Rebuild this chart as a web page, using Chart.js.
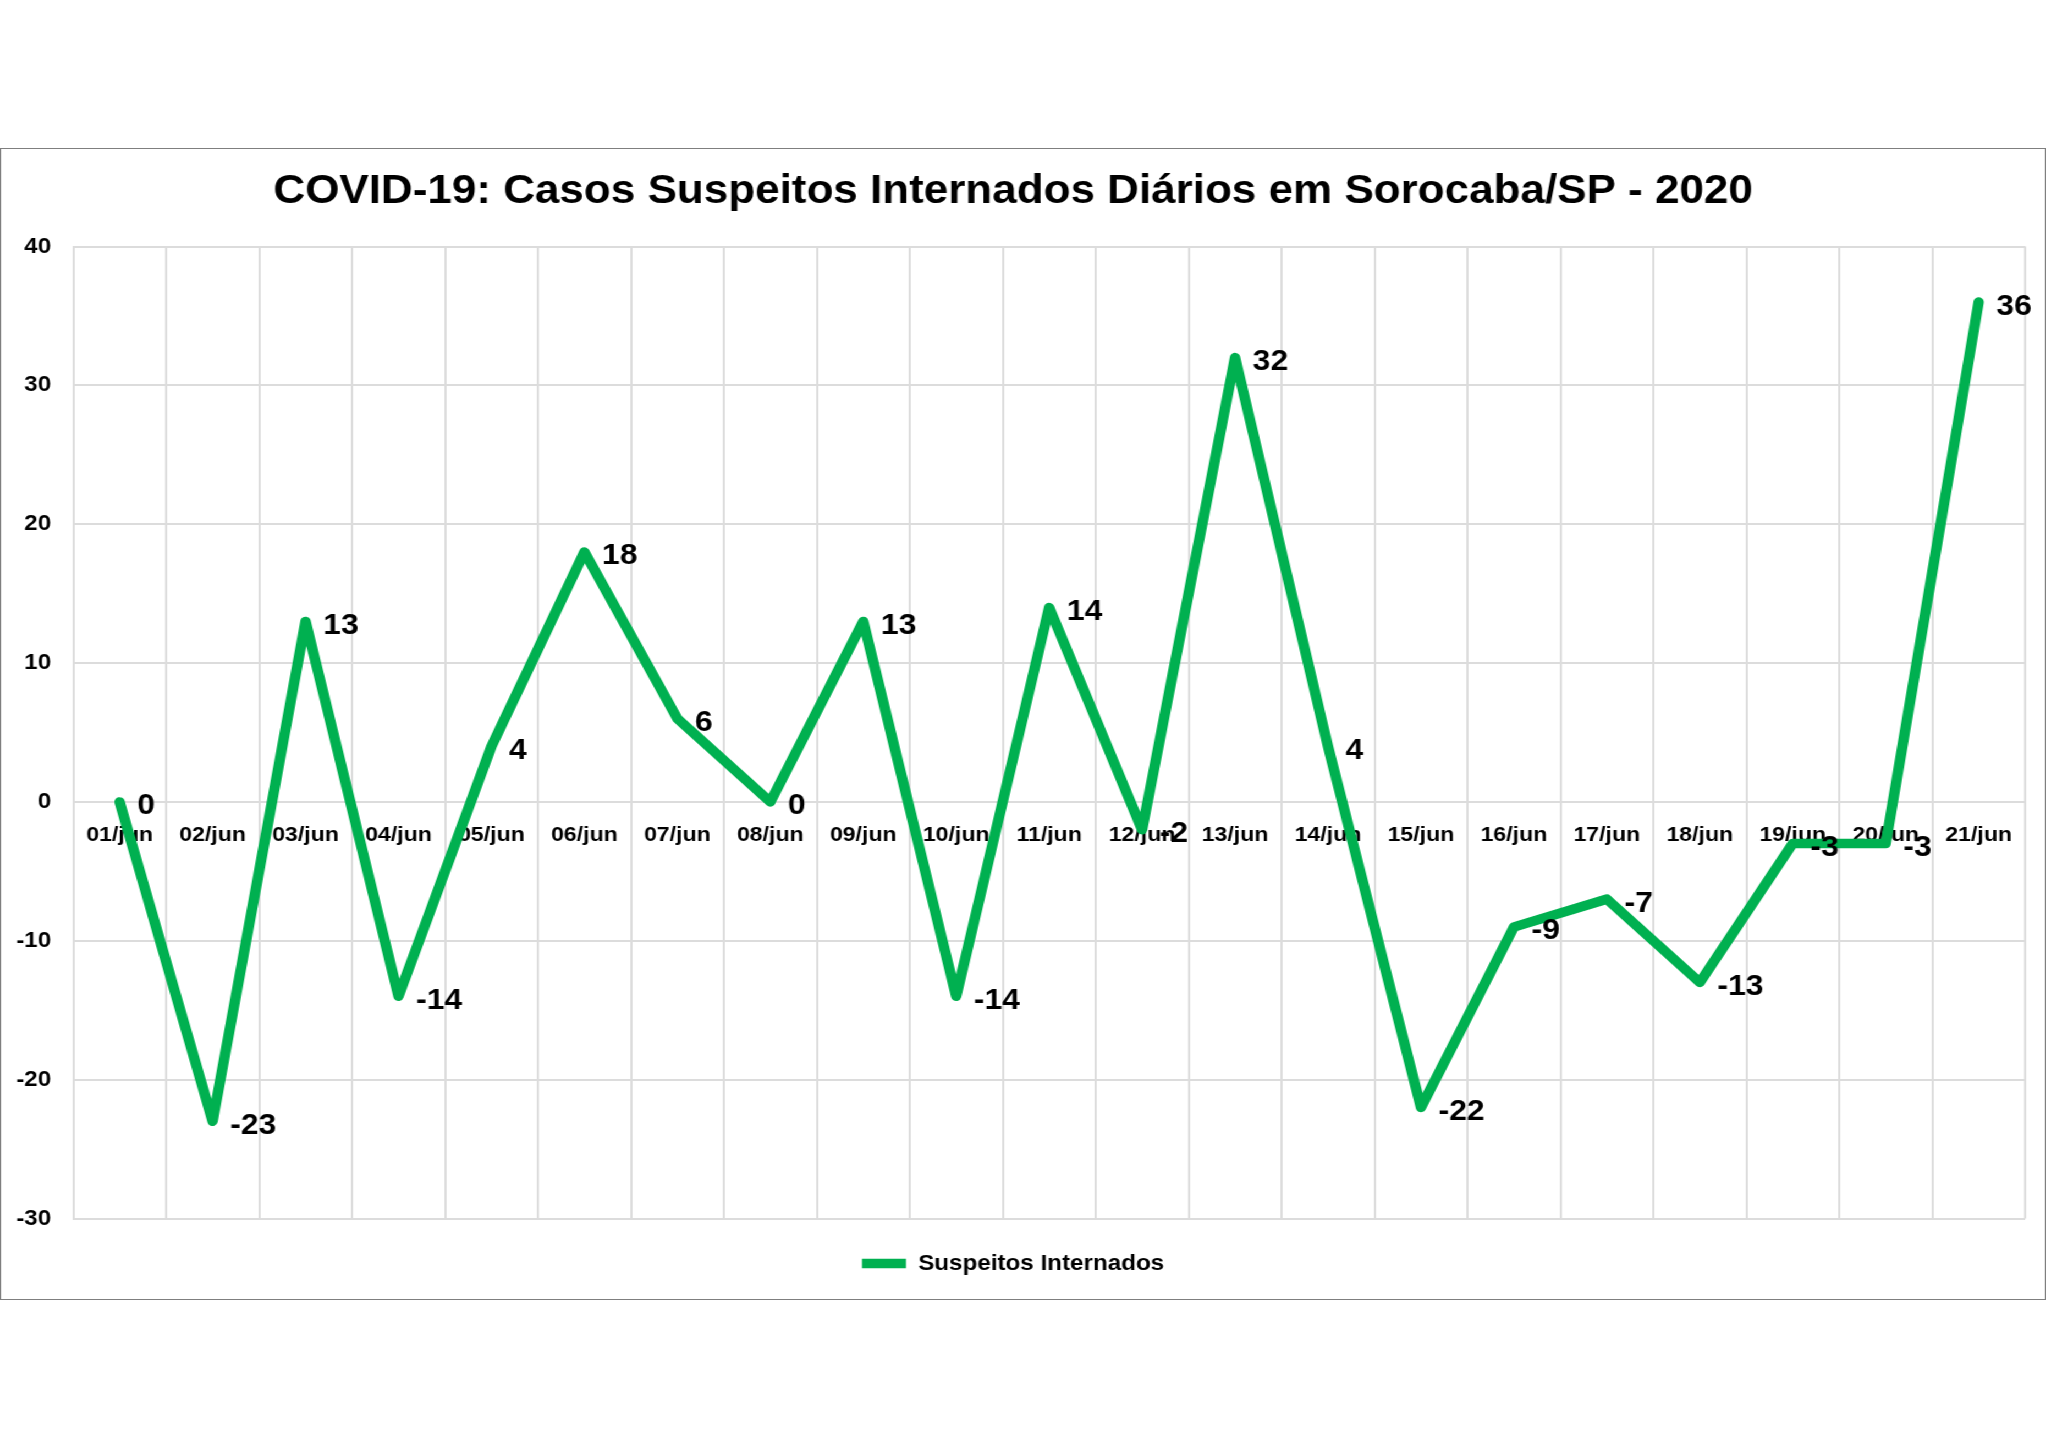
<!DOCTYPE html>
<html>
<head>
<meta charset="utf-8">
<title>COVID-19: Casos Suspeitos Internados Diários em Sorocaba/SP - 2020</title>
<script src="https://cdn.jsdelivr.net/npm/chart.js"></script>
<style>
  html, body { margin: 0; padding: 0; background: #ffffff; }
  body { width: 2048px; height: 1448px; position: relative; overflow: hidden; }
  /* o grafico original vem levemente esticado na horizontal */
  #moldura {
    position: absolute; left: 0; top: 148px;
    width: 1860px; height: 1152px;
    box-sizing: border-box;
    border: 1.5px solid #7f7f7f;
    background: #ffffff;
    transform: scaleX(1.1);
    transform-origin: 0 0;
  }
  #moldura canvas { display: block; }
</style>
</head>
<body>
<div id="moldura">
  <canvas id="grafico" width="1857" height="1149"></canvas>
</div>
<script>
// dados
const dias = ["01/jun", "02/jun", "03/jun", "04/jun", "05/jun", "06/jun", "07/jun",
              "08/jun", "09/jun", "10/jun", "11/jun", "12/jun", "13/jun", "14/jun",
              "15/jun", "16/jun", "17/jun", "18/jun", "19/jun", "20/jun", "21/jun"];
const suspeitos = [0, -23, 13, -14, 4, 18, 6, 0, 13, -14, 14, -2, 32, 4, -22, -9, -7, -13, -3, -3, 36];
const eixoY = { min: -30, max: 40, passo: 10 };

const fonte = '"Liberation Sans", Arial, Helvetica, sans-serif';
Chart.defaults.font.family = fonte;
Chart.defaults.font.weight = 'bold';
Chart.defaults.color = '#000000';

// rotulo com o valor ao lado de cada ponto
const rotulosPlugin = {
    id: 'rotulos',
    afterDatasetsDraw: function(chart) {
        let ctx = chart.ctx;
        let meta = chart.getDatasetMeta(0);
        ctx.save();
        ctx.font = 'bold 29px ' + fonte;
        ctx.fillStyle = '#000000';
        ctx.textAlign = 'left';
        ctx.textBaseline = 'middle';
        meta.data.forEach(function(pt, i) {
            ctx.fillText(String(suspeitos[i]), pt.x + 16, pt.y + 4.5);
        });
        ctx.restore();
    }
};

let ctx = document.getElementById("grafico").getContext("2d");
let grafico = new Chart(ctx, {
    type: "line",
    data: {
        labels: dias,
        datasets: [{
            label: "Suspeitos Internados",
            data: suspeitos,
            borderColor: "#00b050",
            backgroundColor: "#00b050",
            borderWidth: 9.5,
            borderCapStyle: "round",
            borderJoinStyle: "round",
            pointRadius: 0,
            pointHoverRadius: 0,
            tension: 0,
            fill: false
        }]
    },
    options: {
        responsive: false,
        animation: false,
        devicePixelRatio: 1,
        layout: {
            padding: { left: 0, right: 17, top: 0, bottom: 13.5 }
        },
        scales: {
            x: {
                position: { y: 0 },
                offset: true,
                grid: { display: true, offset: true, color: "#dcdcdc", lineWidth: 2, drawTicks: false },
                border: { display: false },
                ticks: {
                    padding: 20.5,
                    maxRotation: 0,
                    autoSkip: false,
                    font: { size: 21, weight: "bold" }
                }
            },
            y: {
                min: eixoY.min,
                max: eixoY.max,
                grid: { color: "#dcdcdc", lineWidth: 2, drawTicks: false },
                border: { display: true, color: "#dcdcdc", width: 2 },
                ticks: {
                    stepSize: eixoY.passo,
                    padding: 20,
                    font: { size: 22, weight: "bold" }
                },
                afterFit: function(scale) {
                    scale.width = 65.5;
                }
            }
        },
        plugins: {
            title: {
                display: true,
                text: "COVID-19: Casos Suspeitos Internados Diários em Sorocaba/SP - 2020",
                color: "#000000",
                font: { size: 40, weight: "bold" },
                padding: { top: 19.3, bottom: 30.2 }
            },
            legend: {
                position: "bottom",
                labels: {
                    usePointStyle: true,
                    pointStyle: "line",
                    pointStyleWidth: 40,
                    padding: 34,
                    color: "#000000",
                    font: { size: 22, weight: "bold" }
                }
            },
            tooltip: { enabled: false }
        }
    },
    plugins: [rotulosPlugin]
});
console.log("grafico pronto", grafico.chartArea);
</script>
</body>
</html>
